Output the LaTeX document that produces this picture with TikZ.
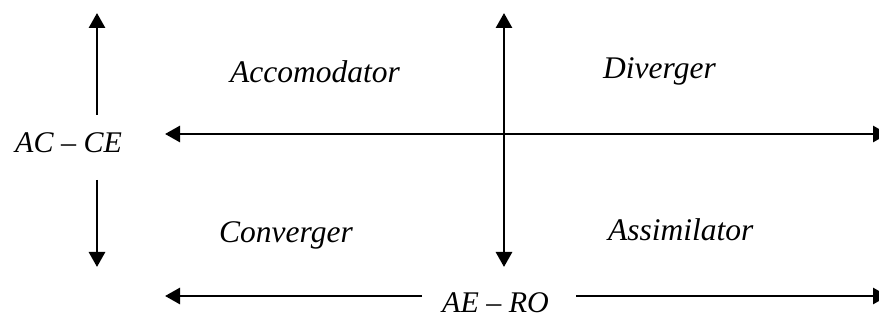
\documentclass[tikz,border=0pt]{standalone}
\usepackage{fontspec}
\setmainfont{Liberation Serif}
\usetikzlibrary{arrows.meta}
\tikzset{
  axis/.style={line width=2.8pt, {Triangle[length=15pt,width=16pt]}-{Triangle[length=15pt,width=16pt]}},
  oneway/.style={line width=2.8pt, -{Triangle[length=15pt,width=16pt]}},
  quad/.style={anchor=base west, inner sep=0pt, font=\fontsize{31.5}{36}\selectfont\itshape},
  axlabel/.style={anchor=base west, inner sep=0pt, font=\fontsize{30}{35}\selectfont\itshape}
}
\begin{document}
\begin{tikzpicture}[x=1pt,y=-1pt]
\useasboundingbox (0,0) rectangle (879,320);
% labels
\node[quad] (acc) at (230,83) {Accomodator};
\node[quad] (div) at (603,79) {Diverger};
\node[quad] (con) at (219,243) {Converger};
\node[quad] (ass) at (608,241) {Assimilator};
\node[axlabel] (acce) at (15,153) {AC – CE};
\node[axlabel] (aero) at (442,313) {AE – RO};
% coordinates
\coordinate (lvTop) at (97,13);
\coordinate (lvUp) at (97,115);
\coordinate (lvDn) at (97,180);
\coordinate (lvBot) at (97,267);
\coordinate (cvTop) at (504,13);
\coordinate (cvBot) at (504,267);
\coordinate (mhL) at (165,134);
\coordinate (mhR) at (888,134);
\coordinate (bhL) at (165,296);
\coordinate (bhLs) at (422,296);
\coordinate (bhRs) at (576,296);
\coordinate (bhR) at (888,296);
% arrows
\draw[oneway] (lvUp) -- (lvTop);
\draw[oneway] (lvDn) -- (lvBot);
\draw[axis] (cvTop) -- (cvBot);
\draw[axis] (mhL) -- (mhR);
\draw[oneway] (bhLs) -- (bhL);
\draw[oneway] (bhRs) -- (bhR);
\end{tikzpicture}
\end{document}
